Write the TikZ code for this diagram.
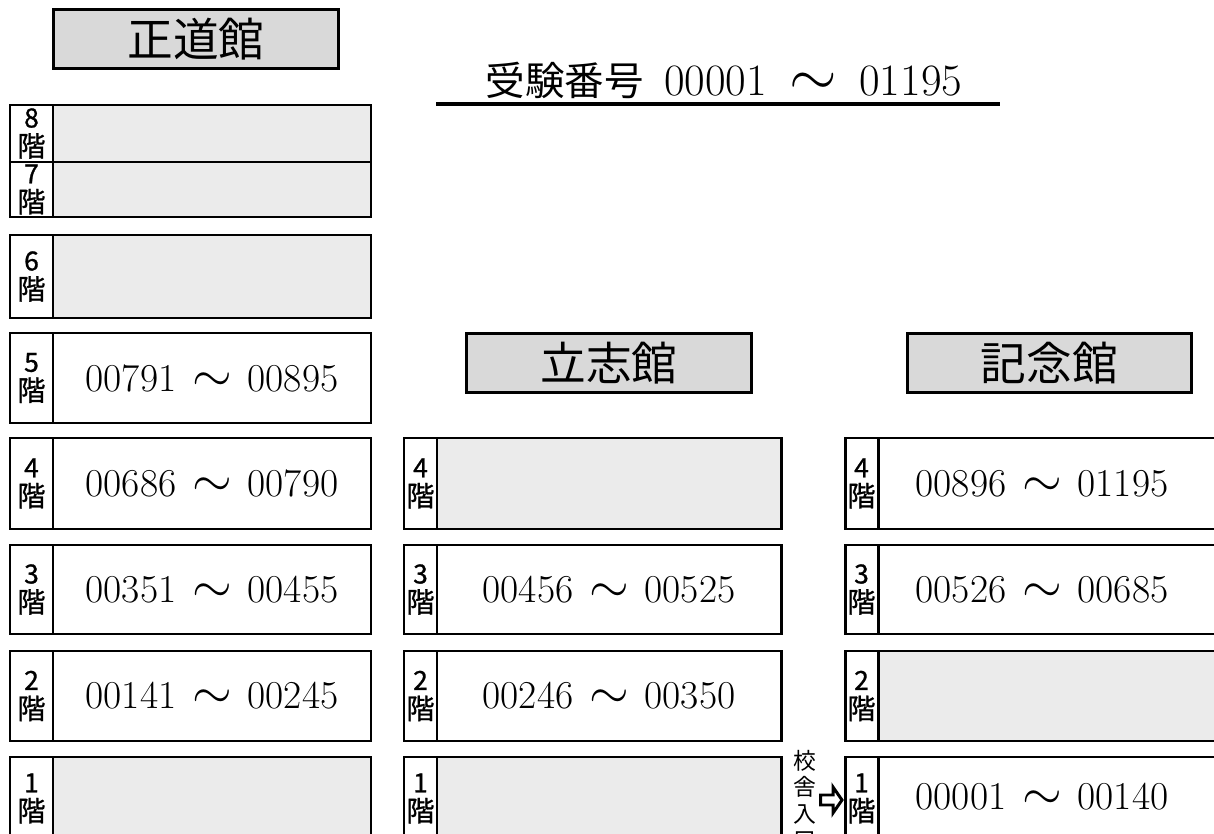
\documentclass[tikz,border=0pt]{standalone}
\usepackage{fontspec}
\newfontfamily\jpfont{Noto Sans CJK JP}
\newfontfamily\labfont[FakeBold=1]{Noto Sans CJK JP}
\usepackage{tikz}
\usetikzlibrary{positioning}
\newcommand{\floorlab}[1]{{\fontsize{15}{12}\selectfont #1}\\階}
\newcommand{\upto}[1][0.4em]{\hspace{#1}\scalebox{1.4}{$\sim$}\hspace{#1}}

\begin{document}
\begin{tikzpicture}[x=0.02cm,y=-0.02cm,
	box/.style={line width=1.7pt},
	vacant/.style={fill=black!8},
	title/.style={draw,line width=1.7pt,fill=black!15,minimum width=57mm,minimum height=11.8mm,font=\jpfont\fontsize{26}{30}\selectfont},
	floor/.style={align=center,inner sep=0pt,font=\labfont\fontsize{16}{16.5}\selectfont},
	numrange/.style={font=\fontsize{22.5}{26}\selectfont}]
	\useasboundingbox (0,0) rectangle (1214,834);
	% header
	\node[font=\fontsize{25.5}{28}\selectfont] (exam) at (724,80) {{\jpfont\fontsize{22.5}{24}\selectfont 受験番号}\hspace{0.45em}00001\upto[0.5em]01195};
	\draw[line width=2pt] (436,104) -- (1000,104);
	% empty floors
	\foreach \xa/\xb/\t/\b in {53/371/105/217,53/371/235/318,53/371/757/840,437/781/438/529,437/781/757/840,878/1225/651/741}
		\fill[vacant] (\xa,\t) rectangle (\xb,\b);
	% 正道館
	\node[title] (seido) at (196,39) {正道館};
	\draw[box] (10,105) rectangle (371,217) (10,162) -- (371,162) (53,105) -- (53,217);
	\node[floor] (s8) at (31.5,133.5) {\floorlab{8}};
	\node[floor] (s7) at (31.5,189.5) {\floorlab{7}};
	\foreach \f/\t/\b in {6/235/318,5/333/423,4/438/529,3/545/634,2/651/741,1/757/840}{
		\draw[box] (10,\t) rectangle (371,\b) (53,\t) -- (53,\b);
		\node[floor] (s\f) at (31.5,{(\t+\b)/2}) {\floorlab{\f}};
	}
	\node[numrange] (s5n) at (212,378) {00791\upto 00895};
	\node[numrange] (s4n) at (212,483.5) {00686\upto 00790};
	\node[numrange] (s3n) at (212,589.5) {00351\upto 00455};
	\node[numrange] (s2n) at (212,696) {00141\upto 00245};
	% 立志館
	\node[title] (risshi) at (609,363) {立志館};
	\foreach \f/\t/\b in {4/438/529,3/545/634,2/651/741,1/757/840}{
		\draw[box] (404,\t) rectangle (781,\b) (437,\t) -- (437,\b);
		\node[floor] (r\f) at (420.5,{(\t+\b)/2}) {\floorlab{\f}};
	}
	\node[numrange] (r3n) at (609,589.5) {00456\upto 00525};
	\node[numrange] (r2n) at (609,696) {00246\upto 00350};
	% 記念館
	\node[title] (kinen) at (1049.5,363) {記念館};
	\foreach \f/\t/\b in {4/438/529,3/545/634,2/651/741,1/757/840}{
		\draw[box] (845,\t) rectangle (1225,\b) (878,\t) -- (878,\b);
		\node[floor] (k\f) at (861.5,{(\t+\b)/2}) {\floorlab{\f}};
	}
	\node[numrange] (k4n) at (1042,483.5) {00896\upto 01195};
	\node[numrange] (k3n) at (1042,589.5) {00526\upto 00685};
	\node[numrange] (k1n) at (1042,797) {00001\upto 00140};
	% entrance
	\node[align=center,inner sep=0pt,font=\jpfont\fontsize{13}{15}\selectfont] (gate) at (805,800) {校\\舎\\入\\口};
	\draw[box,fill=white] (820.5,795) -- (833,795) -- (833,787) -- (842,800) -- (833,813) -- (833,805) -- (820.5,805) -- cycle;
\end{tikzpicture}
\end{document}
